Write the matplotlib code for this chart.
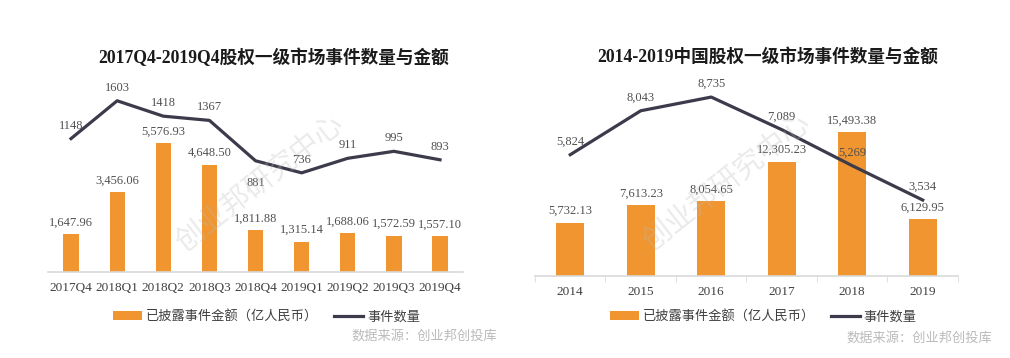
import matplotlib.pyplot as plt

plt.rcParams['font.family'] = ['Liberation Serif', 'Noto Sans CJK SC']

# left chart data
q_labels = ['2017Q4', '2018Q1', '2018Q2', '2018Q3', '2018Q4',
            '2019Q1', '2019Q2', '2019Q3', '2019Q4']
q_amount = [1647.96, 3456.06, 5576.93, 4648.50, 1811.88,
            1315.14, 1688.06, 1572.59, 1557.10]
q_count = [1148, 1603, 1418, 1367, 881, 736, 911, 995, 893]

# right chart data
y_labels = ['2014', '2015', '2016', '2017', '2018', '2019']
y_amount = [5732.13, 7613.23, 8054.65, 12305.23, 15493.38, 6129.95]
y_count = [5824, 8043, 8735, 7089, 5269, 3534]

orange = '#F0952F'
dark = '#3B3B4B'
label_col = '#505050'
cjk = ['Noto Sans CJK SC', 'DejaVu Sans']

fig = plt.figure(figsize=(10.1, 3.58), dpi=100)


def draw(rect, cats, amount, count, bar_w, bar_top, line_lim, title, title_x,
         amt_fmt, cnt_fmt, cnt_below, ticks, legend_x, wm_xy):
    ax = fig.add_axes(rect)
    x = list(range(len(cats)))
    bars = ax.bar(x, amount, width=bar_w, color=orange, zorder=2,
                  label='已披露事件金额（亿人民币）')
    ax.set_xlim(-0.5, len(cats) - 0.5)
    ax.set_ylim(0, bar_top)
    for s in ['top', 'right', 'left']:
        ax.spines[s].set_visible(False)
    ax.spines['bottom'].set_color('#D9D9D9')
    ax.spines['bottom'].set_linewidth(1.2)
    ax.set_yticks([])
    ax.set_xticks(x)
    ax.set_xticklabels(cats, fontsize=9.5, color='#404040')
    if ticks:
        ax.set_xticks([i + 0.5 for i in range(-1, len(cats))], minor=True)
        ax.tick_params(axis='x', which='minor', length=4, color='#D9D9D9')
    ax.tick_params(axis='x', which='major', length=0, pad=7)
    for b, v in zip(bars, amount):
        ax.annotate(amt_fmt(v), (b.get_x() + b.get_width() / 2, b.get_height()),
                    xytext=(0, 4), textcoords='offset points',
                    ha='center', va='bottom', fontsize=9, color=label_col)

    ax2 = ax.twinx()
    ax2.plot(x, count, color=dark, lw=2.3, zorder=3, label='事件数量')
    ax2.set_ylim(*line_lim)
    ax2.axis('off')
    for i, v in enumerate(count):
        dy = -20 if i in cnt_below else 5
        ax2.annotate(cnt_fmt(v), (i, v), xytext=(0, dy), textcoords='offset points',
                     ha='center', va='bottom', fontsize=9, color=label_col)

    fig.text(title_x, 0.84, title, ha='center', va='center', fontsize=12.7,
             fontweight='bold', color='#1A1A1A')

    # watermark
    fig.text(wm_xy[0], wm_xy[1], '创业邦研究中心', rotation=38, ha='center',
             va='center', fontsize=21, color='#BBBBBB', alpha=0.3, family=cjk,
             zorder=5)

    # legend
    h1, l1 = ax.get_legend_handles_labels()
    h2, l2 = ax2.get_legend_handles_labels()
    fig.legend(h1 + h2, l1 + l2, loc='center left', bbox_to_anchor=(legend_x, 0.115),
               ncol=2, frameon=False, prop={'family': cjk, 'size': 9.5},
               handlelength=2.2, handleheight=0.6, columnspacing=1.2,
               handletextpad=0.3, labelcolor='#404040')


draw([0.0475, 0.240, 0.411, 0.537], q_labels, q_amount, q_count, 0.33, 8312,
     (-458, 1855), '2017Q4-2019Q4股权一级市场事件数量与金额', 0.271,
     lambda v: f'{v:,.2f}', lambda v: f'{v}', [4], False, 0.1, (0.258, 0.485))

draw([0.5297, 0.229, 0.4188, 0.5475], y_labels, y_amount, y_count, 0.4, 21075,
     (-303, 9596), '2014-2019中国股权一级市场事件数量与金额', 0.76,
     lambda v: f'{v:,.2f}', lambda v: f'{v:,}', [], True, 0.592, (0.72, 0.49))

fig.text(0.492, 0.06, '数据来源：创业邦创投库', ha='right', va='center',
         fontsize=9.5, color='#BBBBBB', family=cjk)
fig.text(0.982, 0.055, '数据来源：创业邦创投库', ha='right', va='center',
         fontsize=9.5, color='#BBBBBB', family=cjk)

fig.savefig('out.png', dpi=100, facecolor='white')
